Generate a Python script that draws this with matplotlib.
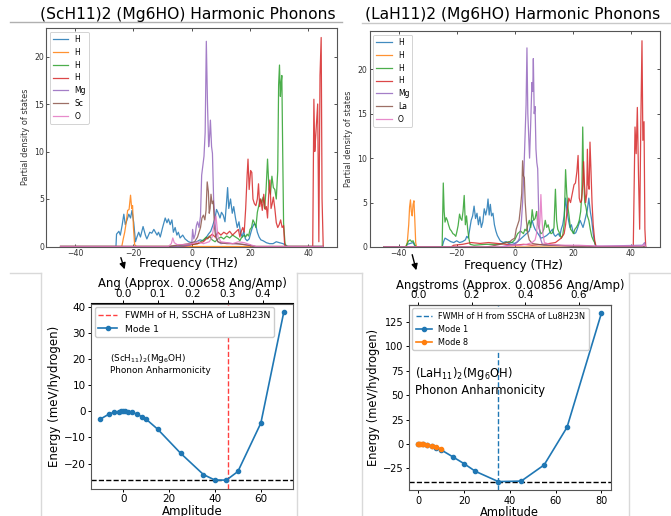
import matplotlib
matplotlib.use("Agg")
import matplotlib.pyplot as plt
from matplotlib.patches import FancyArrowPatch
from matplotlib.lines import Line2D

# ---------------- data ----------------
pdos_xticks = [-40, -20, 0, 20, 40]
pdos_yticks = [0, 5, 10, 15, 20]
pdos_colors = ["C0", "C1", "C2", "C3", "C4", "C5", "C6"]
sc_labels = ["H", "H", "H", "H", "Mg", "Sc", "O"]
la_labels = ["H", "H", "H", "H", "Mg", "La", "O"]

# (ScH11)2 (Mg6HO) partial DOS
sc_h1_f = [-45, -26, -25.8, -25, -24.5, -23.9, -23.3, -22.8, -22.2, -21.6, -21.0, -20.5, -19.9, -19.3, -18.8, -18.2,
           -17.6, -16.7, -15.9, -15.4, -14.4, -13.7, -13.0, -11.9, -11.4, -10.8, -10.0, -9.1, -8.5, -8.0, -7.4, -6.8,
           -6.3, -5.7, -5.1, -4.6, -4.0, -3.1, -2.3, -1.1, 0, 1.7, 2.8, 4.0, 4.9, 5.7, 6.5, 7.2, 8.0, 8.5, 9.1, 9.7,
           10.2, 10.8, 11.4, 11.9, 12.3, 12.7, 13.3, 13.9, 14.4, 15.0, 15.6, 16.2, 16.7, 17.3, 17.8, 18.4, 19.0, 19.7,
           20.3, 20.8, 21.4, 22.0, 22.5, 23.1, 23.7, 24.5, 25.6, 26.7, 27.9, 29.0, 30.1, 31.3, 32.4, 33.0, 45]
sc_h1_d = [0, 0, 1.3, 1.6, 1.2, 2.2, 3.4, 2.3, 2.8, 3.4, 3.0, 3.8, 2.5, 0.5, 1.0, 1.5,
           1.0, 2.1, 1.2, 0.8, 1.5, 1.4, 1.8, 1.2, 1.5, 1.0, 2.0, 3.0, 2.5, 2.9, 2.3, 2.8,
           1.5, 2.0, 1.2, 1.5, 0.9, 1.2, 0.8, 0.5, 0.4, 0.5, 0.7, 0.6, 0.9, 1.3, 1.6, 2.2, 3.0, 3.9, 3.5, 3.0,
           3.6, 3.3, 2.6, 4.5, 6.2, 4.0, 5.0, 3.5, 4.2, 3.0, 2.0, 2.6, 1.5, 1.0, 1.6, 0.8, 0.6, 0.8,
           1.5, 2.0, 2.4, 2.2, 1.5, 1.0, 0.7, 0.6, 0.4, 0.3, 0.3, 0.5, 0.4, 0.3, 0.1, 0, 0]
sc_h2_f = [-45, -24, -23.5, -23, -22.5, -22, -21.5, -21, -20.6, -20.3, -20, -19.6, -19, 45]
sc_h2_d = [0, 0, 0.8, 1.5, 2.5, 3.8, 3.9, 5.4, 4.0, 4.3, 2.0, 0.2, 0, 0]
sc_h3_f = [-45, -5, -4, 0, 2, 3, 4, 5, 5.5, 6, 6.5, 7, 8, 9, 10, 11, 12, 13, 14, 15, 16, 16.5, 17, 18, 18.5, 19,
           19.5, 20, 20.5, 21, 21.5, 22, 22.5, 23, 23.5, 24, 24.5, 25, 25.5, 26, 26.5, 27, 27.5, 28, 28.5, 29,
           29.5, 29.8, 30.1, 30.4, 30.6, 30.9, 31.2, 31.5, 32, 32.5, 45]
sc_h3_d = [0, 0, 0.1, 0.2, 0.3, 0.5, 0.7, 1.0, 0.8, 1.1, 0.9, 0.7, 0.5, 0.8, 1.0, 0.8, 1.1, 0.9, 1.2, 1.0, 0.8, 0.6, 0.9, 1.2, 1.0, 1.3,
           1.1, 1.8, 2.0, 2.8, 2.5, 2.0, 3.6, 4.3, 5.0, 4.6, 5.2, 4.0, 6.0, 9.2, 6.0, 5.5, 7.4, 6.2, 6.0, 5.0,
           8.0, 17.0, 19.1, 15.8, 17.0, 18.0, 10.0, 2.5, 0.3, 0, 0]
sc_h4_f = [-45, -3, 0, 2, 4, 5, 6, 7, 8, 9, 10, 11, 12, 13, 14, 15, 16, 16.5, 17, 17.5, 18, 18.5, 19, 19.3, 19.7,
           20.2, 20.6, 21, 21.5, 22, 22.5, 22.9, 23.3, 23.7, 24.2, 24.7, 25.2, 25.6, 26, 26.4, 26.8, 27.2, 27.6,
           28, 28.5, 29, 29.5, 30, 30.5, 31, 31.5, 31.8, 32, 41.5, 41.9, 42.2, 42.5, 42.8, 43.2, 43.6, 44.0,
           44.4, 44.7, 45.1]
sc_h4_d = [0, 0, 0.2, 0.3, 0.5, 0.8, 1.0, 1.3, 1.0, 1.5, 1.2, 1.5, 1.3, 1.6, 1.2, 1.5, 1.8, 1.0, 1.6, 2.0, 1.5, 4.0, 7.5, 9.2, 6.0,
           8.0, 7.8, 5.0, 4.5, 4.3, 5.0, 6.6, 4.2, 5.0, 3.8, 5.5, 3.9, 4.2, 3.0, 5.5, 7.0, 4.0, 4.5,
           5.2, 4.0, 2.5, 2.0, 2.3, 2.8, 2.0, 2.2, 0.5, 0, 0, 15.5, 10.0, 11.5, 13.0, 15.0, 0.5, 18.0,
           22.0, 5.0, 0]
sc_mg_f = [-45, -5, -1, 0, 0.3, 0.7, 1.2, 1.6, 2, 2.5, 3, 3.4, 3.8, 4.2, 4.6, 5.0, 5.4, 5.8, 6.1, 6.4, 6.8, 7.1, 7.5,
           8, 8.5, 9, 10, 12, 14, 16, 18, 20, 22, 45]
sc_mg_d = [0, 0, 0.1, 0.3, 1.8, 0.8, 1.3, 2.2, 2.6, 2.0, 3.2, 7.5, 8.5, 9.5, 12.0, 21.6, 15.0, 10.5, 11.5, 13.3, 10.5, 9.8, 5.0,
           2.5, 0.8, 0.5, 0.3, 0.4, 0.3, 0.3, 0.2, 0.1, 0, 0]
sc_sc_f = [-45, -8, -6, -3, -1, 0, 1, 2, 2.5, 3, 3.5, 4, 4.5, 4.9, 5.3, 5.7, 6.0, 6.3, 6.6, 7.0, 7.4, 7.8, 8.2, 9, 10,
           12, 15, 18, 20, 22, 45]
sc_sc_d = [0, 0, 0.1, 0.2, 0.3, 0.4, 0.5, 1.0, 1.5, 2.0, 3.0, 3.3, 2.8, 3.8, 6.8, 5.8, 3.5, 4.0, 5.5, 4.5, 4.8, 2.0, 1.0, 0.5, 0.4,
           0.3, 0.3, 0.2, 0.1, 0, 0]
sc_o_f = [-45, -8, -7, -6.5, -6, -5, -3, 0, 2, 4, 6, 7, 7.5, 8, 8.3, 8.7, 9, 10, 12, 14, 16, 18, 20, 22, 45]
sc_o_d = [0, 0, 0.3, 0.9, 0.4, 0.2, 0.2, 0.3, 0.5, 0.3, 0.5, 1.0, 2.0, 2.8, 3.2, 2.0, 1.0, 0.5, 0.4, 0.3, 0.5, 0.4, 0.2, 0, 0]

# (LaH11)2 (Mg6HO) partial DOS
la_h1_f = [-45, -37.5, -37, -36, -35, -34.5, -34, -25, -24.5, -24, -23, -22, -21, -20, -19, -18, -17, -16.5, -16,
           -15.5, -15, -14.5, -14, -13.5, -13, -12.5, -12, -11.5, -11, -10.5, -10, -9.5, -9.2, -8.8, -8.4, -8,
           -7.5, -7, -6.5, -6, -5.5, -5, -4, -3, -2, -1, 0, 1, 2, 3, 4, 5, 5.5, 6, 6.5, 7, 8, 9, 10, 11, 12, 13,
           13.5, 14, 15, 15.5, 16, 16.5, 17, 17.5, 18, 18.5, 19, 19.5, 20, 20.5, 21, 21.5, 22, 22.5, 23, 23.5,
           24, 24.5, 25, 25.5, 26, 26.5, 27, 27.5, 28, 45]
la_h1_d = [0, 0, 0.3, 0.4, 0.5, 0.2, 0, 0, 0.6, 1.0, 0.8, 0.6, 0.5, 0.7, 0.5, 0.6, 0.8, 1.2, 1.0,
           2.0, 3.0, 3.5, 4.6, 3.2, 3.8, 2.5, 3.4, 2.2, 2.8, 4.3, 3.6, 4.4, 5.4, 3.6, 4.8, 3.5,
           3.8, 2.5, 1.8, 1.3, 1.0, 0.7, 0.5, 0.6, 0.4, 0.5, 0.4, 0.6, 0.9, 1.2, 1.5, 1.8, 2.5, 3.0, 2.4, 2.0, 1.5, 1.0, 1.1, 1.3, 1.6, 2.0,
           1.4, 1.2, 1.5, 1.2, 2.0, 2.5, 3.5, 5.5, 4.0, 3.0, 2.2, 2.5, 1.8, 1.5, 1.6, 2.0, 2.5, 3.0, 2.6, 2.2,
           2.8, 3.5, 4.2, 5.5, 4.0, 3.0, 1.5, 0.5, 0, 0]
la_h2_f = [-45, -37.5, -37, -36.5, -36.2, -35.9, -35.6, -35.3, -35, -34.7, -34.4, -34.1, -33.8, 45]
la_h2_d = [0, 0, 0.5, 2.5, 4.5, 5.3, 4.0, 3.5, 4.8, 5.2, 3.0, 0.5, 0, 0]
la_h3_f = [-45, -37.5, -37, -36.5, -36, -35.5, -35, -34.5, -34, -25, -24.6, -24.3, -24, -23.6, -23.2, -22.8, -22.3,
           -21.8, -21.3, -20.8, -20.3, -20, -19.5, -19, -18.6, -18.2, -17.8, -17.4, -17, -16.6, -16.2, -15.8,
           -15.4, -14, -10, -6, -4, -2, -1, 0, 1, 2, 3, 3.5, 4, 4.5, 5, 5.5, 6, 6.5, 7, 7.5, 8, 8.5, 9, 9.5, 10,
           10.5, 11, 11.5, 12, 12.5, 13, 13.5, 14, 14.4, 14.8, 15.5, 16, 16.5, 17, 17.5, 17.9, 18.3, 18.7, 19.2,
           19.7, 20.2, 20.7, 21.2, 21.7, 22.2, 22.7, 23.1, 23.4, 23.7, 24.1, 24.5, 25, 25.5, 26, 26.5, 27, 27.5,
           28, 45]
la_h3_d = [0, 0, 0.4, 0.7, 0.8, 0.6, 0.7, 0.3, 0, 0, 7.2, 4.0, 2.8, 3.3, 3.0, 2.5, 2.0,
           1.8, 1.5, 1.4, 1.2, 1.6, 2.4, 3.7, 3.2, 3.0, 4.0, 5.8, 2.5, 3.5, 2.0, 1.0,
           0.3, 0.2, 0.3, 0.3, 0.4, 0.6, 0.5, 0.8, 1.5, 1.8, 1.5, 2.0, 1.8, 2.5, 3.0, 2.2, 4.2, 3.0, 3.2, 4.0, 2.5, 2.0, 1.5, 1.6, 2.0,
           3.0, 2.2, 2.5, 1.8, 1.5, 1.6, 2.2, 6.5, 3.0, 2.0, 1.5, 1.0, 1.3, 2.5, 8.7, 6.0, 4.5, 3.5, 2.0,
           1.8, 1.5, 2.0, 2.2, 2.5, 3.0, 4.0, 6.0, 13.5, 8.0, 5.0, 4.5, 3.5, 3.0, 2.0, 1.2, 0.8, 0.5,
           0, 0]
la_h4_f = [-45, -22, -21, -18, -15, -12, -9, -6, -3, 0, 3, 6, 10, 14, 16, 17, 17.5, 18, 18.6, 19.2, 19.8, 20.4,
           20.9, 21.4, 21.8, 22.2, 22.6, 23, 23.4, 23.7, 24.0, 24.4, 24.8, 25.0, 25.3, 25.6, 25.9, 26.2, 26.6,
           27, 27.5, 28, 40.8, 41.4, 41.8, 42.2, 42.6, 43.0, 43.4, 43.8, 44.1, 44.5, 44.8, 45.1]
la_h4_d = [0, 0, 0.2, 0.3, 0.5, 0.4, 0.5, 0.4, 0.3, 0.2, 0.3, 0.2, 0.3, 0.5, 1.0, 1.5, 2.5, 4.0, 5.5, 5.0, 6.0, 7.0,
           7.2, 8.5, 10.3, 5.5, 5.0, 5.2, 7.0, 9.6, 7.0, 5.0, 6.0, 11.0, 7.0, 6.5, 11.8, 9.0, 5.0,
           2.5, 0.8, 0, 0, 13.5, 10.5, 15.7, 8.0, 2.0, 14.0, 23.2, 12.0, 14.1, 2.0, 0]
la_mg_f = [-45, -5, -2, 0, 1, 1.6, 2.2, 2.7, 3.1, 3.5, 3.9, 4.2, 4.5, 4.8, 5.1, 5.5, 5.9, 6.2, 6.4, 6.7, 7.0, 7.3,
           7.6, 7.9, 8.3, 8.8, 9.5, 12, 20, 30, 44, 44.7, 45]
la_mg_d = [0, 0, 0.2, 0.3, 0.6, 1.0, 2.5, 5.0, 8.0, 12.0, 16.0, 22.4, 15.0, 12.5, 10.0, 14.0, 18.5, 17.5, 21.2, 15.0, 15.8, 11.0,
           9.5, 8.8, 3.0, 1.0, 0.3, 0.2, 0.1, 0.1, 0.2, 0.5, 0]
la_la_f = [-45, -10, -8, -5, -3, -2, -1, 0, 0.5, 1, 1.5, 2.0, 2.4, 2.7, 3.0, 3.3, 3.6, 4.0, 4.5, 5, 6, 8, 10, 15,
           20, 25, 28, 45]
la_la_d = [0, 0, 0.1, 0.3, 0.5, 0.5, 0.8, 1.0, 2.0, 2.5, 3.0, 4.5, 6.0, 9.7, 8.0, 7.8, 5.0, 3.0, 1.5, 0.8, 0.4, 0.3, 0.2, 0.2,
           0.1, 0.1, 0, 0]
la_o_f = [-45, -5, -2, 0, 2, 4, 6, 7, 7.5, 8, 8.4, 8.7, 9.0, 9.3, 9.7, 10.2, 12, 16, 22, 28, 44, 44.7, 45]
la_o_d = [0, 0, 0.1, 0.2, 0.2, 0.3, 0.5, 0.8, 1.5, 4.0, 2.0, 3.0, 5.9, 3.5, 1.5, 0.5, 0.3, 0.2, 0.2, 0.1, 0.1, 0.3, 0]

# Anharmonicity scans
sc_amp = [-10, -6, -4, -2, -1, 0, 1, 2, 4, 6, 8, 10, 15, 25, 35, 40, 45, 50, 60, 70]
sc_energy = [-3.0, -1.0, -0.4, -0.1, 0.0, 0.0, 0.0, -0.1, -0.4, -1.1, -2.0, -3.0, -6.8, -16.0, -24.2, -26.3, -26.3,
             -23.0, -4.5, 38.0]
sc_yticks = [-20, -10, 0, 10, 20, 30, 40]
sc_ang_ticks = [0.0, 0.1, 0.2, 0.3, 0.4]
sc_ang_per_amp = 0.00658

la_amp1 = [0, 2, 4, 6, 8, 10, 15, 20, 25, 35, 45, 55, 65, 80]
la_energy1 = [0.0, -0.3, -1.2, -2.3, -3.8, -6.0, -13.0, -20.1, -28.0, -38.5, -38.0, -21.5, 17.0, 133.5]
la_amp8 = [0, 0.5, 1, 1.5, 2, 4, 6, 8, 10]
la_energy8 = [0.0, 0.0, 0.0, -0.1, -0.3, -1.0, -2.0, -3.2, -5.0]
la_yticks = [-25, 0, 25, 50, 75, 100, 125]
la_xticks = [0, 20, 40, 60, 80]
la_ang_ticks = [0.0, 0.2, 0.4, 0.6]
la_ang_per_amp = 0.00856
fwhm_ang = 0.3

# ---------------- figure ----------------
W, H = 671, 516
fig = plt.figure(figsize=(W / 100, H / 100), dpi=100)


def box(l, t, r, b):
    return [l / W, 1 - b / H, (r - l) / W, (b - t) / H]


def fx(x):
    return x / W


def fy(y):
    return 1 - y / H


# light frame lines of the collage
frame_col = "#d9d9d9"
for (x0, y0, x1, y1, c) in [
    (10, 22, 342, 22, "#b0b0b0"), (362, 22.5, 671, 22.5, "#c8c8c8"),
    (10, 272.5, 41, 272.5, frame_col), (41, 272.5, 41, 516, frame_col),
    (297, 272.5, 362, 272.5, frame_col), (297, 272.5, 297, 516, frame_col),
    (362, 272.5, 362, 516, frame_col), (629, 272.5, 629, 516, frame_col),
    (629, 272.5, 671, 272.5, frame_col)]:
    fig.add_artist(Line2D([fx(x0), fx(x1)], [fy(y0), fy(y1)], transform=fig.transFigure,
                          color=c, lw=1.0))


def pdos_panel(rect, series, labels, ylim, title, title_x, title_y, freq_x, freq_y):
    ax = fig.add_axes(box(*rect))
    for (f, d), lab, c in zip(series, labels, pdos_colors):
        ax.plot(f, d, color=c, lw=0.9, alpha=0.85, label=lab)
    ax.set_xlim(-50, 50)
    ax.set_ylim(*ylim)
    ax.set_xticks(pdos_xticks)
    ax.set_yticks(pdos_yticks)
    ax.tick_params(labelsize=5.6, direction="in", length=2.5, width=0.6, top=True, right=True,
                   pad=1.5, colors="#333333")
    for s in ax.spines.values():
        s.set_color("#555555")
        s.set_linewidth(0.8)
    ax.set_ylabel("Partial density of states", fontsize=5.9, labelpad=3, color="#333333")
    leg = ax.legend(loc="upper left", fontsize=5.5, handlelength=2.0, borderaxespad=0.5,
                    labelspacing=0.5, framealpha=1.0)
    leg.get_frame().set_linewidth(0.6)
    fig.text(fx(title_x), fy(title_y), title, fontsize=11.2, ha="center", va="center")
    fig.text(fx(freq_x), fy(freq_y), "Frequency (THz)", fontsize=8.7, ha="center", va="center")
    return ax


sc_series = [(sc_h1_f, sc_h1_d), (sc_h2_f, sc_h2_d), (sc_h3_f, sc_h3_d), (sc_h4_f, sc_h4_d),
             (sc_mg_f, sc_mg_d), (sc_sc_f, sc_sc_d), (sc_o_f, sc_o_d)]
la_series = [(la_h1_f, la_h1_d), (la_h2_f, la_h2_d), (la_h3_f, la_h3_d), (la_h4_f, la_h4_d),
             (la_mg_f, la_mg_d), (la_la_f, la_la_d), (la_o_f, la_o_d)]

pdos_panel((46, 28, 337.5, 246.5), sc_series, sc_labels, (0, 23.0),
           "(ScH11)2 (Mg6HO) Harmonic Phonons", 188, 14, 189, 263)
pdos_panel((369.5, 31, 660, 247), la_series, la_labels, (0, 24.3),
           "(LaH11)2 (Mg6HO) Harmonic Phonons", 513, 15, 514, 265)

# arrows
for (x0, y0, x1, y1) in [(120, 255, 125.5, 272), (411.5, 252, 417, 273)]:
    fig.add_artist(FancyArrowPatch((fx(x0), fy(y0)), (fx(x1), fy(y1)), transform=fig.transFigure,
                                   arrowstyle="-|>", mutation_scale=9, color="black", lw=1.0))


def style_bottom(ax, tick_size):
    ax.tick_params(labelsize=tick_size, length=2.5, width=0.7, pad=1.5)
    for s in ax.spines.values():
        s.set_color("#555555")


# bottom-left: (ScH11)2(Mg6OH)
ax3 = fig.add_axes(box(91, 303.5, 293, 488.5))
ax3.axhline(min(sc_energy), color="black", ls="--", lw=1.0)
ax3.axvline(fwhm_ang / sc_ang_per_amp, color="red", ls="--", lw=1.0, alpha=0.75,
            label="FWMH of H, SSCHA of Lu8H23N")
ax3.plot(sc_amp, sc_energy, "-o", color="C0", lw=1.2, ms=3, label="Mode 1")
ax3.set_yticks(sc_yticks)
style_bottom(ax3, 7.5)
ax3.set_xlabel("Amplitude", fontsize=8.5, labelpad=0.5)
ax3.set_ylabel("Energy (meV/hydrogen)", fontsize=8.5, labelpad=2)
ax3.legend(loc="upper left", fontsize=6.7, handlelength=2.0, borderaxespad=0.4, framealpha=1.0)
ax3.text(-5.8, 22.8, "(ScH$_{11}$)$_2$(Mg$_6$OH)\nPhonon Anharmonicity", fontsize=6.4, va="top", ha="left")
sec3 = ax3.secondary_xaxis("top", functions=(lambda a: a * sc_ang_per_amp, lambda a: a / sc_ang_per_amp))
sec3.set_xticks(sc_ang_ticks)
sec3.tick_params(labelsize=7.5, length=2.5, width=0.7, pad=1.0)
sec3.set_xlabel("Ang (Approx. 0.00658 Ang/Amp)", fontsize=8.4, labelpad=1)

# bottom-right: (LaH11)2(Mg6OH)
ax4 = fig.add_axes(box(409, 305, 610.5, 490))
ax4.axhline(min(la_energy1), color="black", ls="--", lw=1.0)
ax4.axvline(fwhm_ang / la_ang_per_amp, color="C0", ls="--", lw=1.0,
            label="FWMH of H from SSCHA of Lu8H23N")
ax4.plot(la_amp1, la_energy1, "-o", color="C0", lw=1.2, ms=3, label="Mode 1")
ax4.plot(la_amp8, la_energy8, "-o", color="C1", lw=1.2, ms=3, label="Mode 8")
ax4.set_xticks(la_xticks)
ax4.set_yticks(la_yticks)
style_bottom(ax4, 7.0)
ax4.set_xlabel("Amplitude", fontsize=8.3, labelpad=0.5)
ax4.set_ylabel("Energy (meV/hydrogen)", fontsize=8.3, labelpad=2)
ax4.legend(loc="upper left", fontsize=5.9, handlelength=2.0, borderaxespad=0.4, framealpha=1.0)
ax4.text(-1.2, 81, "(LaH$_{11}$)$_2$(Mg$_6$OH)\nPhonon Anharmonicity", fontsize=8.3, va="top", ha="left")
sec4 = ax4.secondary_xaxis("top", functions=(lambda a: a * la_ang_per_amp, lambda a: a / la_ang_per_amp))
sec4.set_xticks(la_ang_ticks)
sec4.tick_params(labelsize=7.5, length=2.5, width=0.7, pad=1.0)
sec4.set_xlabel("Angstroms (Approx. 0.00856 Ang/Amp)", fontsize=8.4, labelpad=1)

fig.savefig("out.png", dpi=100)
